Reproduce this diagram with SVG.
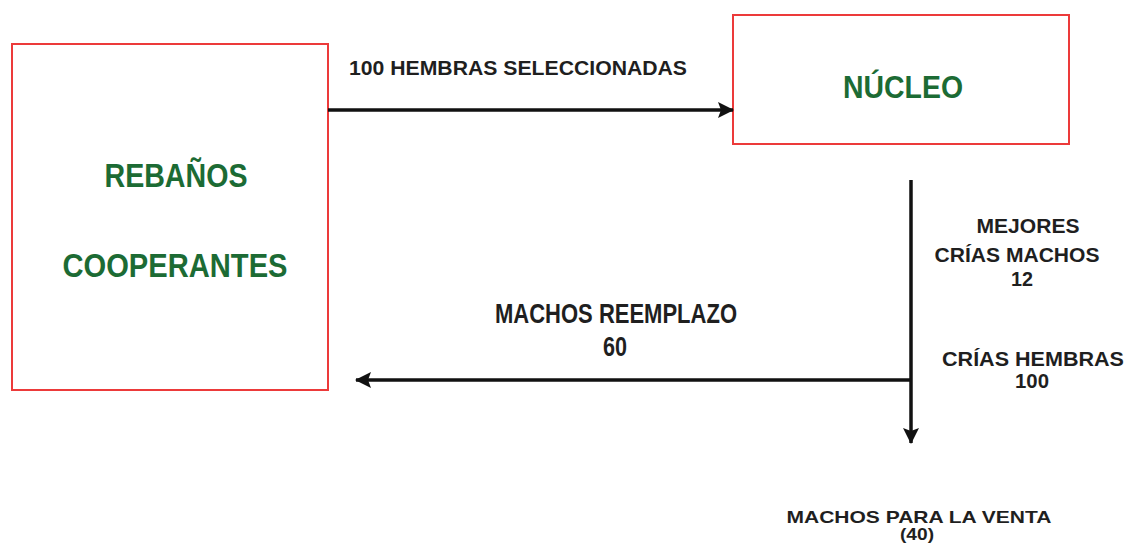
<svg xmlns="http://www.w3.org/2000/svg" width="1127" height="551" viewBox="0 0 1127 551">
<style>
.box{fill:#fff;stroke:#ec3a3a;stroke-width:2}
.g{fill:#1c6b34;font-family:"Liberation Sans",Arial,sans-serif;font-weight:bold;text-anchor:middle}
.k{fill:#1f1f1f;font-family:"Liberation Sans",Arial,sans-serif;font-weight:bold;text-anchor:middle}
.ln{stroke:#111;stroke-width:3.5;fill:none}
</style>
<defs>
<marker id="ah" viewBox="0 0 16 16" refX="15" refY="8" markerWidth="16" markerHeight="16" markerUnits="userSpaceOnUse" orient="auto">
<path d="M0,0 L16,8 L0,16 L3,8 Z" fill="#111"/>
</marker>
</defs>
<rect width="1127" height="551" fill="#fff"/>
<g id="rebanos">
<rect class="box" x="12" y="44" width="316" height="346"/>
<text class="g" x="176" y="187" font-size="34" textLength="143" lengthAdjust="spacingAndGlyphs">REBAÑOS</text>
<text class="g" x="175" y="277" font-size="34" textLength="225" lengthAdjust="spacingAndGlyphs">COOPERANTES</text>
</g>
<g id="nucleo">
<rect class="box" x="733" y="15" width="336" height="129"/>
<text class="g" x="903" y="98" font-size="32" textLength="120" lengthAdjust="spacingAndGlyphs">NÚCLEO</text>
</g>
<g id="connectors">
<line class="ln" x1="328" y1="110" x2="733" y2="110" marker-end="url(#ah)"/>
<line class="ln" x1="911" y1="180" x2="911" y2="443" marker-end="url(#ah)"/>
<line class="ln" x1="911" y1="380" x2="356" y2="380" marker-end="url(#ah)"/>
</g>
<g id="labels">
<text class="k" x="518" y="75" font-size="20" textLength="338" lengthAdjust="spacingAndGlyphs">100 HEMBRAS SELECCIONADAS</text>
<text class="k" x="1028" y="233" font-size="21" textLength="103" lengthAdjust="spacingAndGlyphs">MEJORES</text>
<text class="k" x="1017" y="262" font-size="21" textLength="165" lengthAdjust="spacingAndGlyphs">CRÍAS MACHOS</text>
<text class="k" x="1022" y="286" font-size="21" textLength="22" lengthAdjust="spacingAndGlyphs">12</text>
<text class="k" x="1033" y="366" font-size="21" textLength="182" lengthAdjust="spacingAndGlyphs">CRÍAS  HEMBRAS</text>
<text class="k" x="1032" y="388" font-size="21" textLength="34" lengthAdjust="spacingAndGlyphs">100</text>
<text class="k" x="616" y="323" font-size="28" textLength="242" lengthAdjust="spacingAndGlyphs">MACHOS REEMPLAZO</text>
<text class="k" x="615" y="356" font-size="28" textLength="24" lengthAdjust="spacingAndGlyphs">60</text>
<text class="k" x="919" y="523" font-size="17" textLength="265" lengthAdjust="spacingAndGlyphs">MACHOS PARA LA VENTA</text>
<text class="k" x="917" y="540" font-size="17" textLength="34" lengthAdjust="spacingAndGlyphs">(40)</text>
</g>
</svg>
